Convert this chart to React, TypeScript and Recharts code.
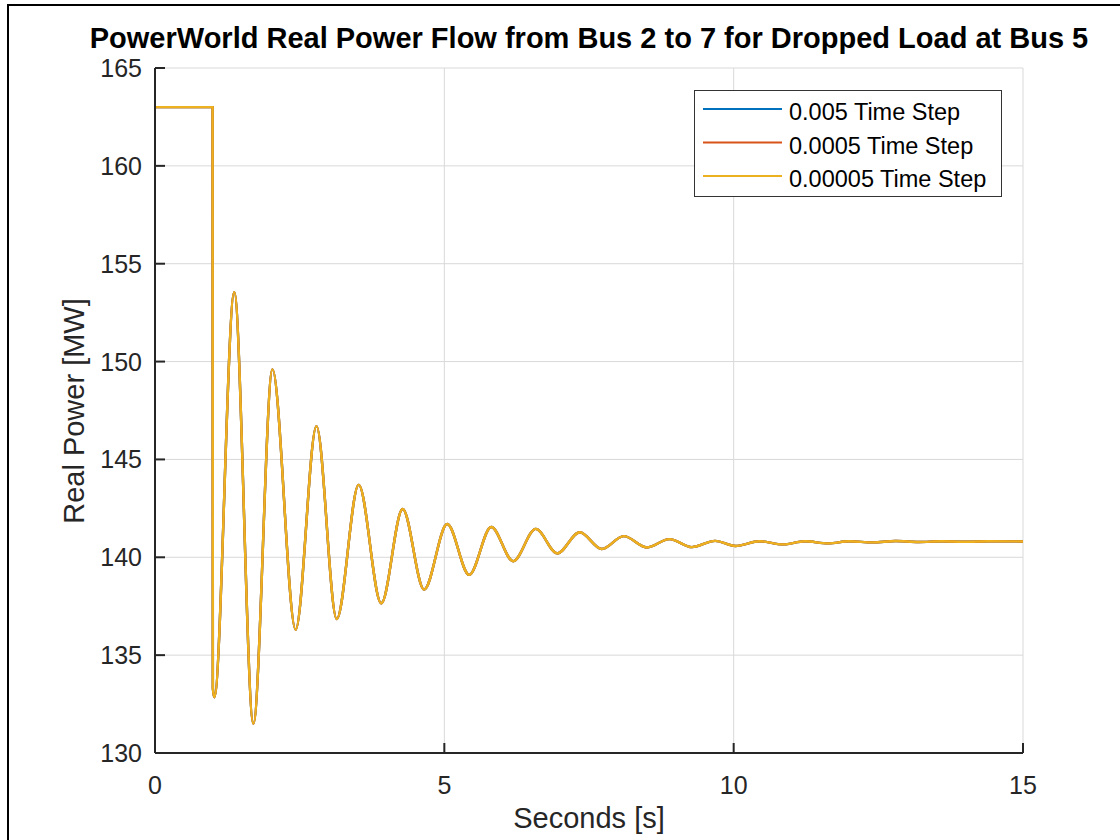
import { CartesianGrid, Legend, Line, LineChart, XAxis, YAxis } from 'recharts'

// seconds
const times = [
  0, 0.995, 1.0, 1.025, 1.37, 1.7, 2.03, 2.43, 2.79, 3.14, 3.52, 3.91, 4.28, 4.65, 5.05, 5.43, 5.81, 6.19, 6.58, 6.95,
  7.34, 7.72, 8.1, 8.5, 8.89, 9.28, 9.68, 10.03, 10.45, 10.85, 11.23, 11.63, 12.0, 12.4, 12.8, 13.2, 13.6, 14.0, 14.4, 15.0,
]

// MW, the three runs sit on top of each other
const step005 = [
  163, 163, 133.3, 132.85, 153.55, 131.5, 149.6, 136.3, 146.7, 136.85, 143.7, 137.65, 142.47, 138.35, 141.7, 139.1, 141.55,
  139.8, 141.45, 140.2, 141.28, 140.42, 141.08, 140.5, 140.93, 140.52, 140.84, 140.58, 140.82, 140.66, 140.82, 140.71,
  140.82, 140.76, 140.83, 140.78, 140.82, 140.79, 140.82, 140.81,
]
const step0005 = [
  163, 163, 133.3, 132.85, 153.55, 131.5, 149.6, 136.3, 146.7, 136.85, 143.7, 137.65, 142.47, 138.35, 141.7, 139.1, 141.55,
  139.8, 141.45, 140.2, 141.28, 140.42, 141.08, 140.5, 140.93, 140.52, 140.84, 140.58, 140.82, 140.66, 140.82, 140.71,
  140.82, 140.76, 140.83, 140.78, 140.82, 140.79, 140.82, 140.81,
]
const step00005 = [
  163, 163, 133.3, 132.85, 153.55, 131.5, 149.6, 136.3, 146.7, 136.85, 143.7, 137.65, 142.47, 138.35, 141.7, 139.1, 141.55,
  139.8, 141.45, 140.2, 141.28, 140.42, 141.08, 140.5, 140.93, 140.52, 140.84, 140.58, 140.82, 140.66, 140.82, 140.71,
  140.82, 140.76, 140.83, 140.78, 140.82, 140.79, 140.82, 140.81,
]

const xTicks = [0, 5, 10, 15]
const yTicks = [130, 135, 140, 145, 150, 155, 160, 165]

const seriesNames = ['0.005 Time Step', '0.0005 Time Step', '0.00005 Time Step']
const seriesColors = ['#0072BD', '#D95319', '#EDB120']

const data = times.map((t, i) => ({ t, a: step005[i], b: step0005[i], c: step00005[i] }))

const FONT = '"Liberation Sans", Arial, Helvetica, sans-serif'
const AXIS = '#262626'

function YTick(props: any) {
  const { x, y, payload } = props
  const ax = x + 13
  return (
    <g>
      <line x1={ax} x2={ax + 10} y1={y} y2={y} stroke={AXIS} strokeWidth={2} />
      <text x={x} y={y + 9} textAnchor="end" fontSize={25} fill={AXIS} fontFamily={FONT}>
        {payload.value}
      </text>
    </g>
  )
}

function XTick(props: any) {
  const { x, y, payload } = props
  return (
    <g>
      <line x1={x} x2={x} y1={y} y2={y - 10} stroke={AXIS} strokeWidth={2} />
      <text x={x} y={y + 41} textAnchor="middle" fontSize={25} fill={AXIS} fontFamily={FONT}>
        {payload.value}
      </text>
    </g>
  )
}

function LegendBox() {
  return (
    <svg width={308} height={107} style={{ display: 'block' }}>
      <rect x={0.5} y={0.5} width={307} height={106} fill="#fff" stroke="#333" strokeWidth={1} />
      {seriesNames.map((name, i) => (
        <g key={name}>
          <line x1={9} x2={88} y1={19 + i * 33.5} y2={19 + i * 33.5} stroke={seriesColors[i]} strokeWidth={2.2} />
          <text x={95} y={30 + i * 33.5} fontSize={23.5} fill="#000" fontFamily={FONT}>
            {name}
          </text>
        </g>
      ))}
    </svg>
  )
}

export default function App() {
  return (
    <div style={{ position: 'absolute', left: 0, top: 0, width: 1120, height: 840, background: '#fff', overflow: 'hidden' }}>
      <div
        style={{
          position: 'absolute',
          left: 7,
          top: 4,
          width: 1120,
          height: 840,
          borderTop: '2px solid #000',
          borderLeft: '2px solid #000',
        }}
      />
      <div
        style={{
          position: 'absolute',
          left: 0,
          width: 1178,
          top: 22,
          textAlign: 'center',
          fontFamily: FONT,
          fontWeight: 'bold',
          fontSize: 29,
          color: '#000',
          whiteSpace: 'nowrap',
        }}
      >
        PowerWorld Real Power Flow from Bus 2 to 7 for Dropped Load at Bus 5
      </div>
      <div style={{ position: 'absolute', left: 0, top: 0 }}>
        <LineChart width={1120} height={840} data={data} margin={{ top: 68, right: 97, bottom: 27, left: 75 }}>
          <CartesianGrid stroke="#d9d9d9" strokeWidth={1} />
          <XAxis
            dataKey="t"
            type="number"
            domain={[0, 15]}
            ticks={xTicks}
            height={60}
            tickLine={false}
            tickSize={0}
            tickMargin={0}
            stroke={AXIS}
            strokeWidth={2}
            tick={<XTick />}
            allowDataOverflow
          />
          <YAxis
            type="number"
            domain={[130, 165]}
            ticks={yTicks}
            width={80}
            tickLine={false}
            tickSize={0}
            tickMargin={13}
            stroke={AXIS}
            strokeWidth={2}
            tick={<YTick />}
            allowDataOverflow
          />
          <Legend
            layout="vertical"
            align="center"
            verticalAlign="middle"
            wrapperStyle={{ left: 694, top: 90, width: 308, height: 107 }}
            content={() => <LegendBox />}
          />
          <Line dataKey="a" name={seriesNames[0]} type="monotone" stroke={seriesColors[0]} strokeWidth={2.4} dot={false} isAnimationActive={false} />
          <Line dataKey="b" name={seriesNames[1]} type="monotone" stroke={seriesColors[1]} strokeWidth={2.4} dot={false} isAnimationActive={false} />
          <Line dataKey="c" name={seriesNames[2]} type="monotone" stroke={seriesColors[2]} strokeWidth={2.4} dot={false} isAnimationActive={false} />
        </LineChart>
      </div>
      <div
        style={{
          position: 'absolute',
          left: 74,
          top: 411,
          transform: 'translate(-50%, -50%) rotate(-90deg)',
          fontFamily: FONT,
          fontSize: 29,
          color: AXIS,
          whiteSpace: 'nowrap',
        }}
      >
        Real Power [MW]
      </div>
      <div
        style={{
          position: 'absolute',
          left: 0,
          width: 1178,
          top: 802,
          textAlign: 'center',
          fontFamily: FONT,
          fontSize: 29,
          color: AXIS,
          whiteSpace: 'nowrap',
        }}
      >
        Seconds [s]
      </div>
    </div>
  )
}
